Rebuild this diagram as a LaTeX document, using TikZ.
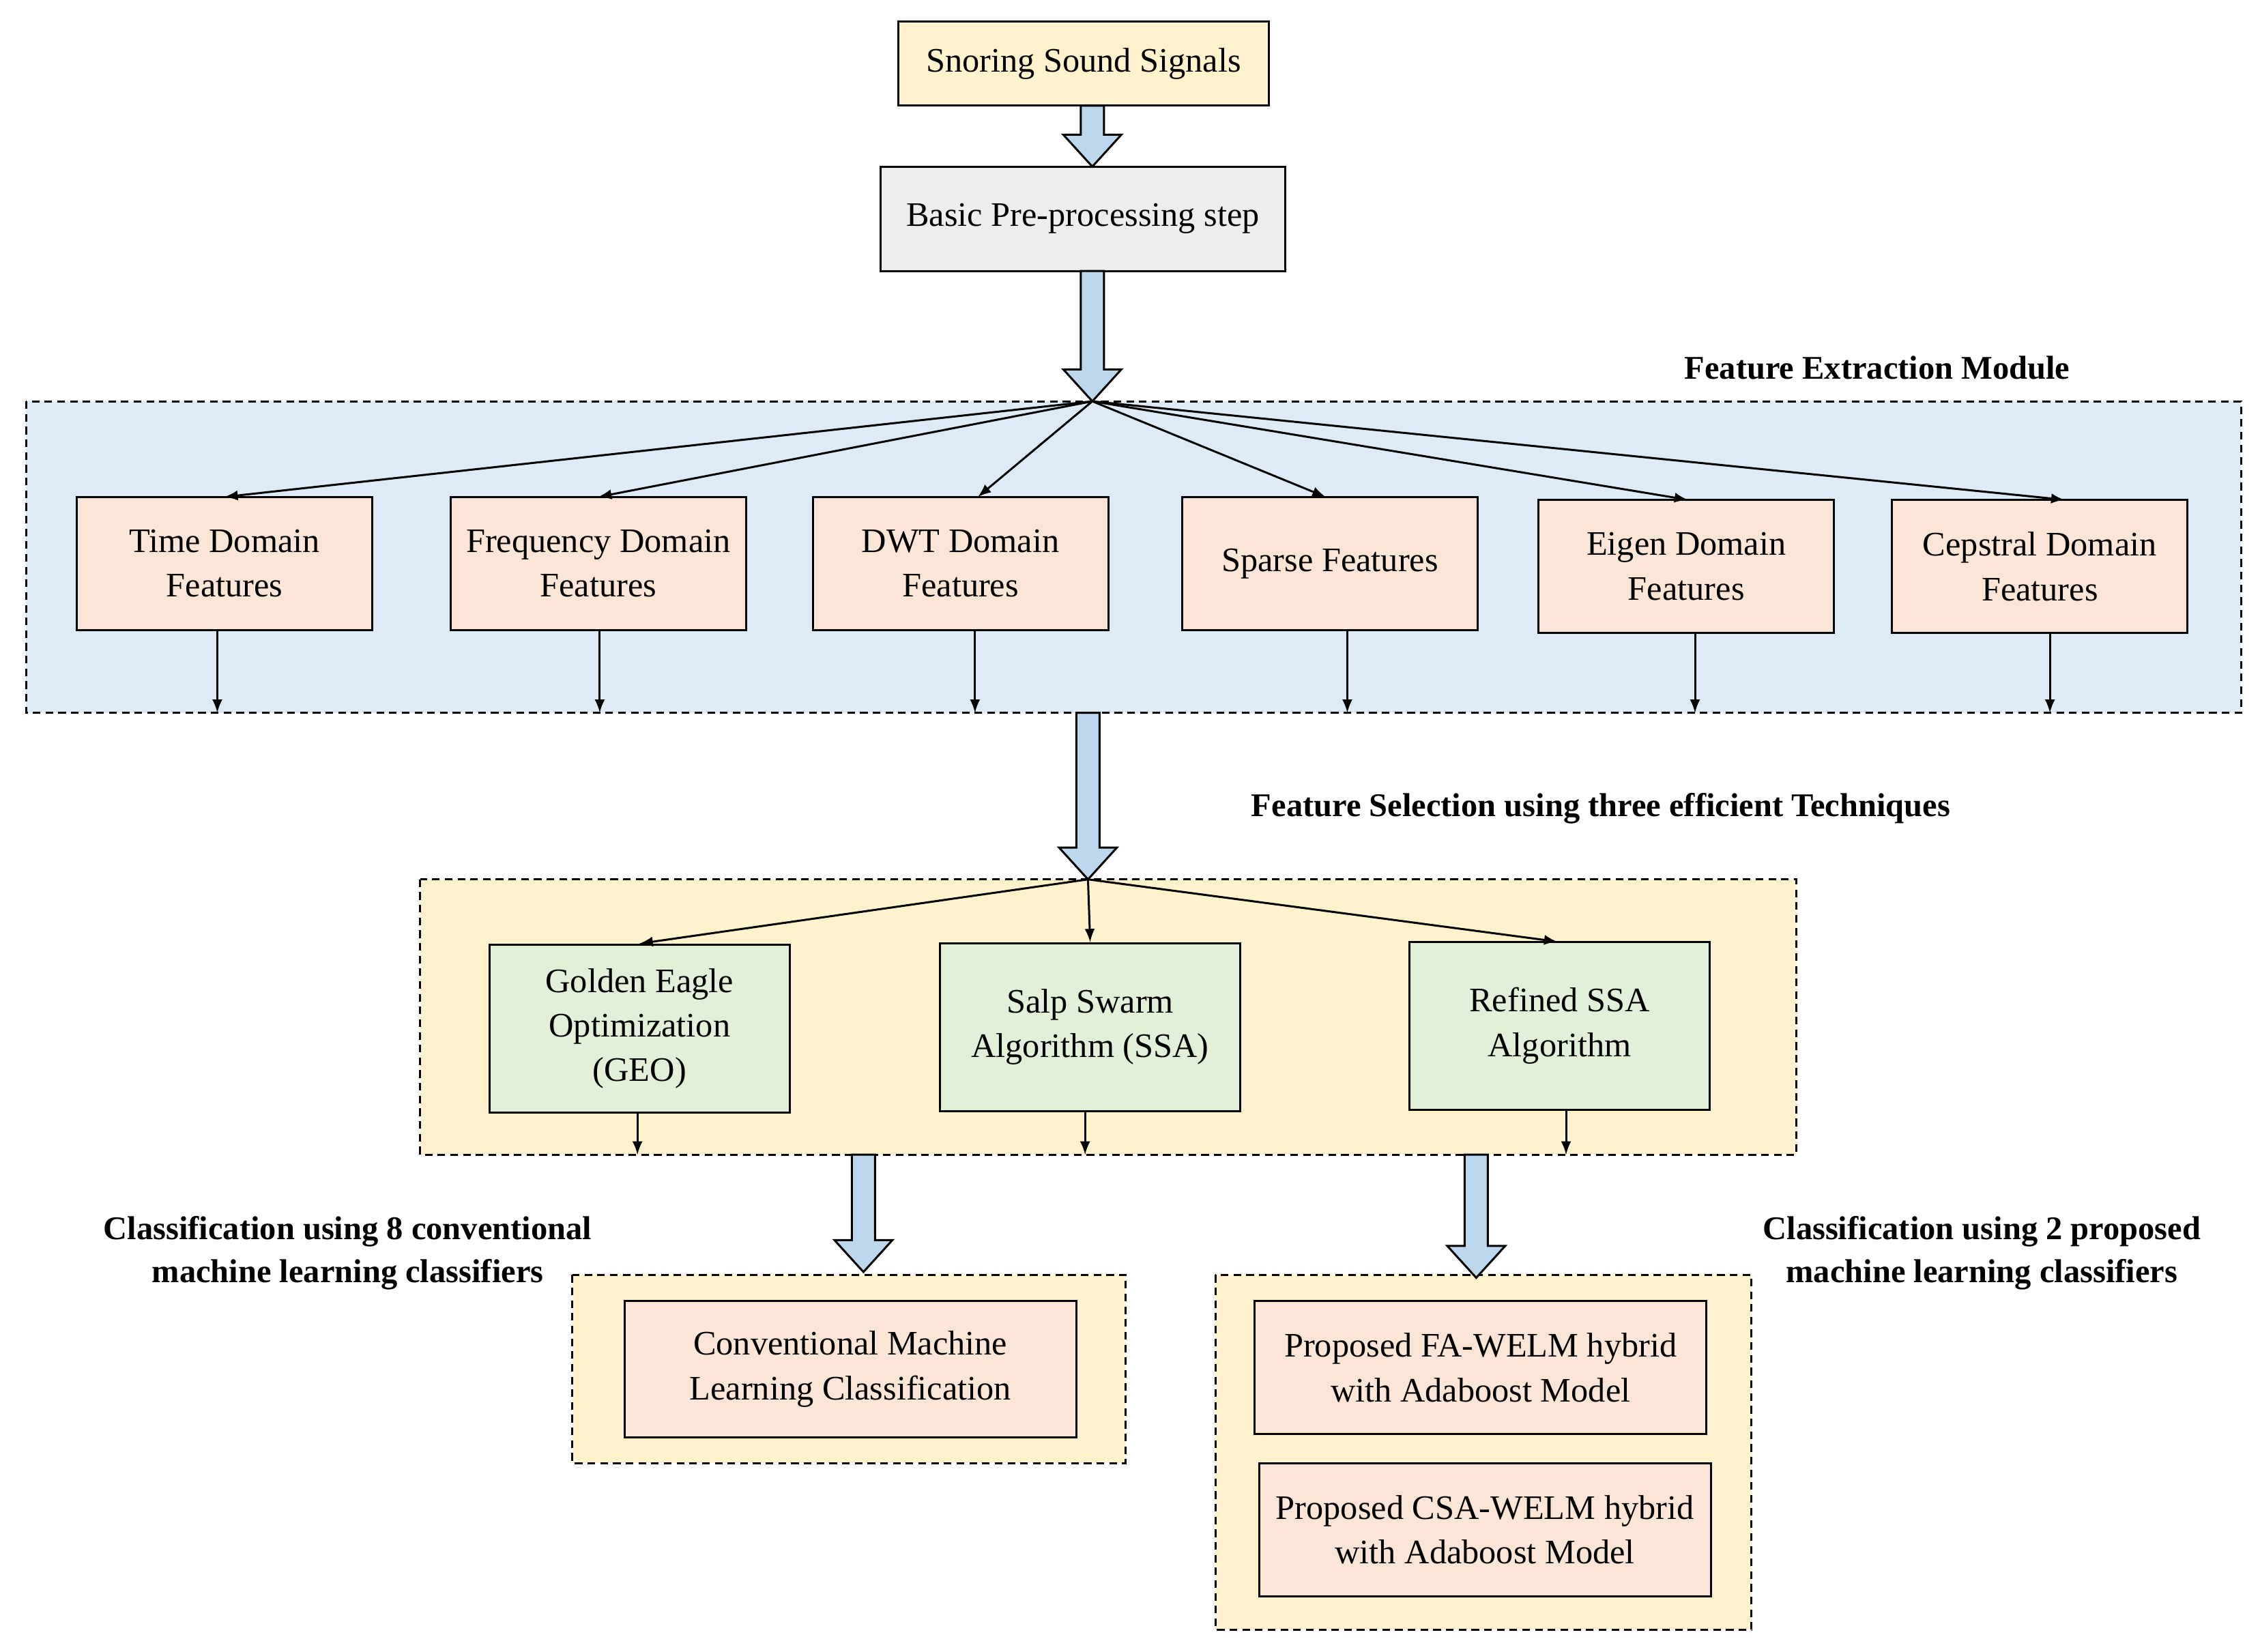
\documentclass[tikz,border=0pt]{standalone}
\usepackage{fontspec}
\setmainfont{Liberation Serif}
\begin{document}
\begin{tikzpicture}[x=0.02cm,y=-0.02cm,
 box/.style={draw=black,thick,align=center,inner sep=0pt,font=\fontsize{13.5}{17.5}\selectfont},
 lbl/.style={align=center,font=\bfseries\fontsize{13}{17}\selectfont},
 dashbox/.style={draw=black,densely dashed,thick},
 arr/.style={->,>=latex,thick}]
\definecolor{cy}{HTML}{FFF2CC}\definecolor{cg}{HTML}{EDEDED}
\definecolor{cb}{HTML}{DEEBF7}\definecolor{cp}{HTML}{FBE5D6}
\definecolor{cgr}{HTML}{E2F0D9}\definecolor{ca}{HTML}{BDD7EE}
\newcommand\harrow[3]{\draw[thick,fill=ca] (#1-8,#2) -- (#1+8,#2) -- (#1+8,#3-22) -- (#1+20,#3-22) -- (#1,#3) -- (#1-20,#3-22) -- (#1-8,#3-22) -- cycle;}
\useasboundingbox (0,0) rectangle (1560,1140);
\fill[white] (0,0) rectangle (1560,1140);
% dashed regions
\draw[dashbox,fill=cb] (18,277) rectangle (1547,492);
\draw[dashbox,fill=cy] (290,607) rectangle (1240,797);
\draw[dashbox,fill=cy] (395,880) rectangle (777,1010);
\draw[dashbox,fill=cy] (839,880) rectangle (1209,1125);
% top boxes
\node[box,fill=cy,minimum width=5.12cm,minimum height=1.16cm] (snd) at (748,44) {Snoring Sound Signals};
\node[box,fill=cg,minimum width=5.58cm,minimum height=1.44cm] (pre) at (747.5,151) {Basic Pre-processing step};
\harrow{754}{73}{115}
\harrow{754}{187}{277}
\coordinate (fe) at (754,277);
\node[lbl,anchor=east] at (1435,254) {Feature Extraction Module};
% feature boxes
\tikzset{fbox/.style={box,fill=cp,minimum width=4.08cm,minimum height=1.84cm}}
\node[fbox] (t) at (155,389) {Time Domain\\Features};
\node[fbox] (f) at (413,389) {Frequency Domain\\Features};
\node[fbox] (d) at (663,389) {DWT Domain\\Features};
\node[fbox] (s) at (918,389) {Sparse Features};
\node[fbox] (e) at (1164,391) {Eigen Domain\\Features};
\node[fbox] (c) at (1408,391) {Cepstral Domain\\Features};
\draw[arr] (fe) -- (155,343);
\draw[arr] (fe) -- (413,343);
\draw[arr] (fe) -- (675,343);
\draw[arr] (fe) -- (915,343);
\draw[arr] (fe) -- (1165,345);
\draw[arr] (fe) -- (1425,345);
\foreach \n/\x in {t/150,f/414,d/673,s/930,e/1170,c/1415}{
 \coordinate (\n b) at (\x,492);
 \draw[arr] (\n.south -| \n b) -- (\n b);}
\harrow{751}{492}{607}
\coordinate (fs) at (751,607);
\node[lbl] at (1105,558) {Feature Selection using three efficient Techniques};
\tikzset{gbox/.style={box,fill=cgr,minimum width=4.14cm,minimum height=2.32cm}}
\node[gbox] (g1) at (441.5,710) {Golden Eagle\\Optimization\\(GEO)};
\node[gbox] (g2) at (752.5,709) {Salp Swarm\\Algorithm (SSA)};
\node[gbox] (g3) at (1076.5,708) {Refined SSA\\Algorithm};
\draw[arr] (fs) -- (g1.north);
\draw[arr] (fs) -- (g2.north);
\draw[arr] (fs) -- (1075,650);
\foreach \n/\x in {g1/440,g2/749,g3/1081}{
 \coordinate (\n b) at (\x,797);
 \draw[arr] (\n.south -| \n b) -- (\n b);}
\harrow{596}{797}{878}
\harrow{1019}{797}{882}
\node[lbl] at (240,865) {Classification using 8 conventional\\machine learning classifiers};
\node[lbl] at (1368,865) {Classification using 2 proposed\\machine learning classifiers};
\node[box,fill=cp,minimum width=6.24cm,minimum height=1.88cm] (cm) at (587,945) {Conventional Machine\\Learning Classification};
\node[box,fill=cp,minimum width=6.24cm,minimum height=1.84cm] (p1) at (1022,944) {Proposed FA-WELM hybrid\\with Adaboost Model};
\node[box,fill=cp,minimum width=6.24cm,minimum height=1.84cm] (p2) at (1025,1056) {Proposed CSA-WELM hybrid\\with Adaboost Model};
\end{tikzpicture}
\end{document}
